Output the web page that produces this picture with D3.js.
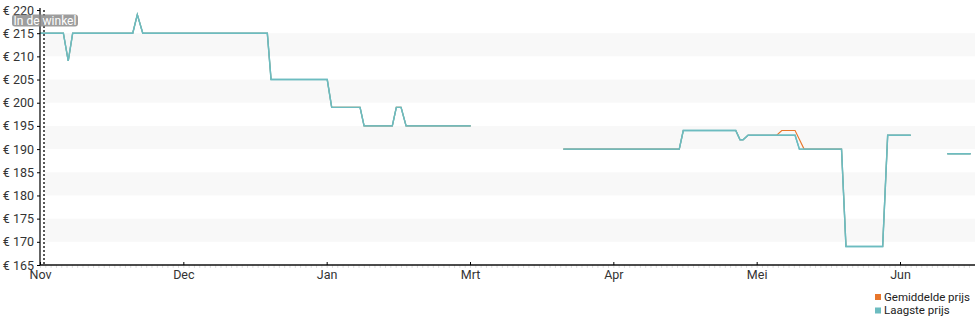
<!doctype html>
<html>
<head>
    <meta charset="utf-8">
    <style>
        body { margin: 0; background: #fff; font-family: Roboto, sans-serif; }
        .axis text { font-family: Roboto, sans-serif; fill: #333; }
    </style>
    <script src="https://d3js.org/d3.v7.min.js"></script>
</head>
<body>
<svg width="980" height="325"></svg>
<script>
// x positions are in months since 1 Nov (axis ticks are one month apart)
var monthLabels = ["Nov", "Dec", "Jan", "Mrt", "Apr", "Mei", "Jun"];
var priceTicks = [165, 170, 175, 180, 185, 190, 195, 200, 205, 210, 215, 220];

// Laagste prijs (null = no data)
var lowX = [0, 0.163, 0.197, 0.228, 0.647, 0.679, 0.717, 1.586, 1.612, 2.004, 2.035, 2.233, 2.261, 2.458, 2.486, 2.519, 2.554, 3.005,
            null,
            3.651, 4.460, 4.488, 4.854, 4.884, 4.905, 4.940, 5.268, 5.298, 5.592, 5.623, 5.879, 5.914, 6.075,
            null,
            6.330, 6.493];
var lowY = [215, 215, 209, 215, 215, 219, 215, 215, 205, 205, 199, 199, 195, 195, 199, 199, 195, 195,
            null,
            190, 190, 194, 194, 192, 192, 193, 193, 190, 190, 169, 169, 193, 193,
            null,
            189, 189];

// Gemiddelde prijs
var avgX = [0, 0.163, 0.197, 0.228, 0.647, 0.679, 0.717, 1.586, 1.612, 2.004, 2.035, 2.233, 2.261, 2.458, 2.486, 2.519, 2.554, 3.005,
            null,
            3.651, 4.460, 4.488, 4.854, 4.884, 4.905, 4.940, 5.140, 5.175, 5.268, 5.331, 5.592, 5.623, 5.879, 5.914, 6.075,
            null,
            6.330, 6.493];
var avgY = [215, 215, 209, 215, 215, 219, 215, 215, 205, 205, 199, 199, 195, 195, 199, 199, 195, 195,
            null,
            190, 190, 194, 194, 192, 192, 193, 193, 194, 194, 190, 190, 169, 169, 193, 193,
            null,
            189, 189];

var svg = d3.select("svg");
var plotLeft = 40, plotRight = 975, plotTop = 10, plotBottom = 265;

var x = d3.scaleLinear().domain([0, 6]).range([plotLeft, 900]);
var y = d3.scaleLinear().domain([165, 220]).range([plotBottom, plotTop]);

// alternating bands
var bands = [[210, 215], [200, 205], [190, 195], [180, 185], [170, 175]];
svg.selectAll(".band")
   .data(bands)
   .enter().append("rect")
   .attr("x", plotLeft + 5)
   .attr("y", function(d) { return y(d[1]); })
   .attr("width", plotRight - plotLeft - 5)
   .attr("height", function(d) { return y(d[0]) - y(d[1]); })
   .attr("fill", "#f8f8f8");

// faint minor ticks under the x axis
svg.append("g")
   .attr("transform", "translate(0," + plotBottom + ")")
   .call(d3.axisBottom(x).tickValues(d3.range(0, 6.5, 1 / 27)).tickSize(3).tickFormat(""))
   .call(function(g) {
       g.select(".domain").remove();
       g.selectAll("line").attr("stroke", "#ddd");
   });

// dotted marker line
svg.append("line")
   .attr("x1", 44).attr("x2", 44)
   .attr("y1", plotTop).attr("y2", plotBottom)
   .attr("stroke", "#222")
   .attr("stroke-width", 1.5)
   .attr("stroke-dasharray", "2,2");

function toPoints(xs, ys) {
    return xs.map(function(d, i) { return [d, ys[i]]; });
}

var line = d3.line()
   .defined(function(d) { return d[0] !== null; })
   .x(function(d) { return x(d[0]); })
   .y(function(d) { return y(d[1]); });

svg.append("path")
   .datum(toPoints(avgX, avgY))
   .attr("d", line)
   .attr("fill", "none")
   .attr("stroke", "#e8762b")
   .attr("stroke-width", 1.1);

// teal drawn twice so orange does not tint its anti-aliased edges
[0, 1].forEach(function() {
    svg.append("path")
       .datum(toPoints(lowX, lowY))
       .attr("d", line)
       .attr("fill", "none")
       .attr("stroke", "#6cbcc0")
       .attr("stroke-width", 1.4);
});

// y axis
var yAxis = svg.append("g")
   .attr("class", "axis")
   .attr("transform", "translate(" + plotLeft + ",0)")
   .call(d3.axisLeft(y).tickValues(priceTicks).tickSize(3).tickPadding(3)
        .tickFormat(function(d) { return "€ " + d; }));
yAxis.select(".domain").attr("stroke", "#111").attr("stroke-width", 1.3).attr("d", "M0," + (plotTop - 2) + "V" + plotBottom);
yAxis.selectAll("text").style("font-size", "12.5px");

// x axis
var xAxis = svg.append("g")
   .attr("class", "axis")
   .attr("transform", "translate(0," + plotBottom + ")")
   .call(d3.axisBottom(x).tickValues(d3.range(monthLabels.length)).tickSize(-3).tickPadding(5)
        .tickFormat(function(d) { return monthLabels[d]; }));
xAxis.select(".domain").attr("stroke", "#111").attr("stroke-width", 1.3).attr("d", "M" + plotLeft + ",0H" + plotRight);
xAxis.selectAll("text").style("font-size", "12.5px");

// "In de winkel" label
svg.append("rect")
   .attr("x", 12).attr("y", 14.5)
   .attr("width", 66).attr("height", 12)
   .attr("rx", 3)
   .attr("fill", "#8c8c8c")
   .attr("fill-opacity", 0.85);
svg.append("text")
   .attr("x", 45).attr("y", 24.5)
   .attr("text-anchor", "middle")
   .attr("fill", "#fff")
   .style("font-size", "12px")
   .text("In de winkel");

// legend
var legend = [["Gemiddelde prijs", "#e8762b"], ["Laagste prijs", "#6cbcc0"]];
var lg = svg.selectAll(".legend")
   .data(legend)
   .enter().append("g")
   .attr("transform", function(d, i) { return "translate(875," + (294 + i * 13.5) + ")"; });
lg.append("rect")
   .attr("width", 6).attr("height", 6)
   .attr("fill", function(d) { return d[1]; });
lg.append("text")
   .attr("x", 9).attr("y", 6.5)
   .attr("fill", "#222")
   .style("font-size", "11.5px")
   .text(function(d) { return d[0]; });
</script>
</body>
</html>
